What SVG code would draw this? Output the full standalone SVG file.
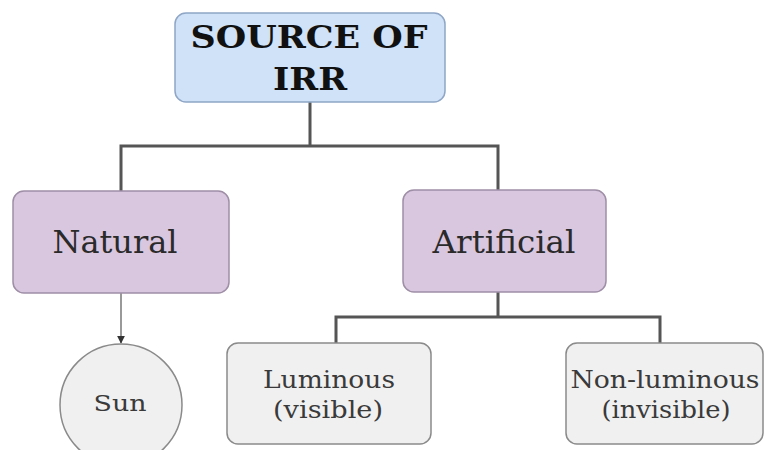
<svg xmlns="http://www.w3.org/2000/svg" width="765" height="450" viewBox="0 0 765 450">
<defs>
<style>
.t{font-family:"DejaVu Serif","Liberation Serif",serif;text-anchor:middle}
.top{fill:#cfe2f7;stroke:#8fa6c6;stroke-width:1.5}
.mid{fill:#d9c7e0;stroke:#9e8ea6;stroke-width:1.5}
.leaf{fill:#f0f0f0;stroke:#8a8a8a;stroke-width:1.5}
.ln{fill:none;stroke:#555;stroke-width:3}
</style>
<marker id="ah" viewBox="0 0 10 10" refX="9" refY="5" markerWidth="8" markerHeight="8" orient="auto" markerUnits="userSpaceOnUse">
<path d="M0,0 L10,5 L0,10 z" fill="#333"/>
</marker>
</defs>
<rect width="765" height="450" fill="#fff"/>
<g id="connectors">
<path class="ln" d="M310,102 V146 M121,192 V146 H498 V190"/>
<path class="ln" d="M498,292 V317 M336,343 V317 H660 V343"/>
<path d="M121,293 V343" fill="none" stroke="#777" stroke-width="1.5" marker-end="url(#ah)"/>
</g>
<g id="source">
<rect class="top" x="175" y="13" width="270" height="89" rx="11"/>
<text class="t" x="309" y="48" font-size="32" font-weight="bold" fill="#111" textLength="237" lengthAdjust="spacingAndGlyphs">SOURCE OF</text>
<text class="t" x="310" y="90" font-size="32" font-weight="bold" fill="#111" textLength="74" lengthAdjust="spacingAndGlyphs">IRR</text>
</g>
<g id="natural">
<rect class="mid" x="13" y="191" width="216" height="102" rx="11"/>
<text class="t" x="115" y="253" font-size="31" fill="#2a2a2a" textLength="125" lengthAdjust="spacingAndGlyphs">Natural</text>
</g>
<g id="artificial">
<rect class="mid" x="403" y="190" width="203" height="102" rx="11"/>
<text class="t" x="504" y="253" font-size="31" fill="#2a2a2a" textLength="143" lengthAdjust="spacingAndGlyphs">Artificial</text>
</g>
<g id="sun">
<circle cx="121" cy="405" r="61" fill="#f0f0f0" stroke="#8a8a8a" stroke-width="1.5"/>
<text class="t" x="120" y="411" font-size="23" fill="#3a3a3a" textLength="53" lengthAdjust="spacingAndGlyphs">Sun</text>
</g>
<g id="luminous">
<rect class="leaf" x="227" y="343" width="204" height="101" rx="11"/>
<text class="t" x="329" y="388" font-size="24" fill="#3a3a3a" textLength="132" lengthAdjust="spacingAndGlyphs">Luminous</text>
<text class="t" x="328" y="418" font-size="24" fill="#3a3a3a" textLength="110" lengthAdjust="spacingAndGlyphs">(visible)</text>
</g>
<g id="nonluminous">
<rect class="leaf" x="566" y="343" width="197" height="101" rx="11"/>
<text class="t" x="665" y="388" font-size="24" fill="#3a3a3a" textLength="189" lengthAdjust="spacingAndGlyphs">Non-luminous</text>
<text class="t" x="666" y="418" font-size="24" fill="#3a3a3a" textLength="129" lengthAdjust="spacingAndGlyphs">(invisible)</text>
</g>
</svg>
